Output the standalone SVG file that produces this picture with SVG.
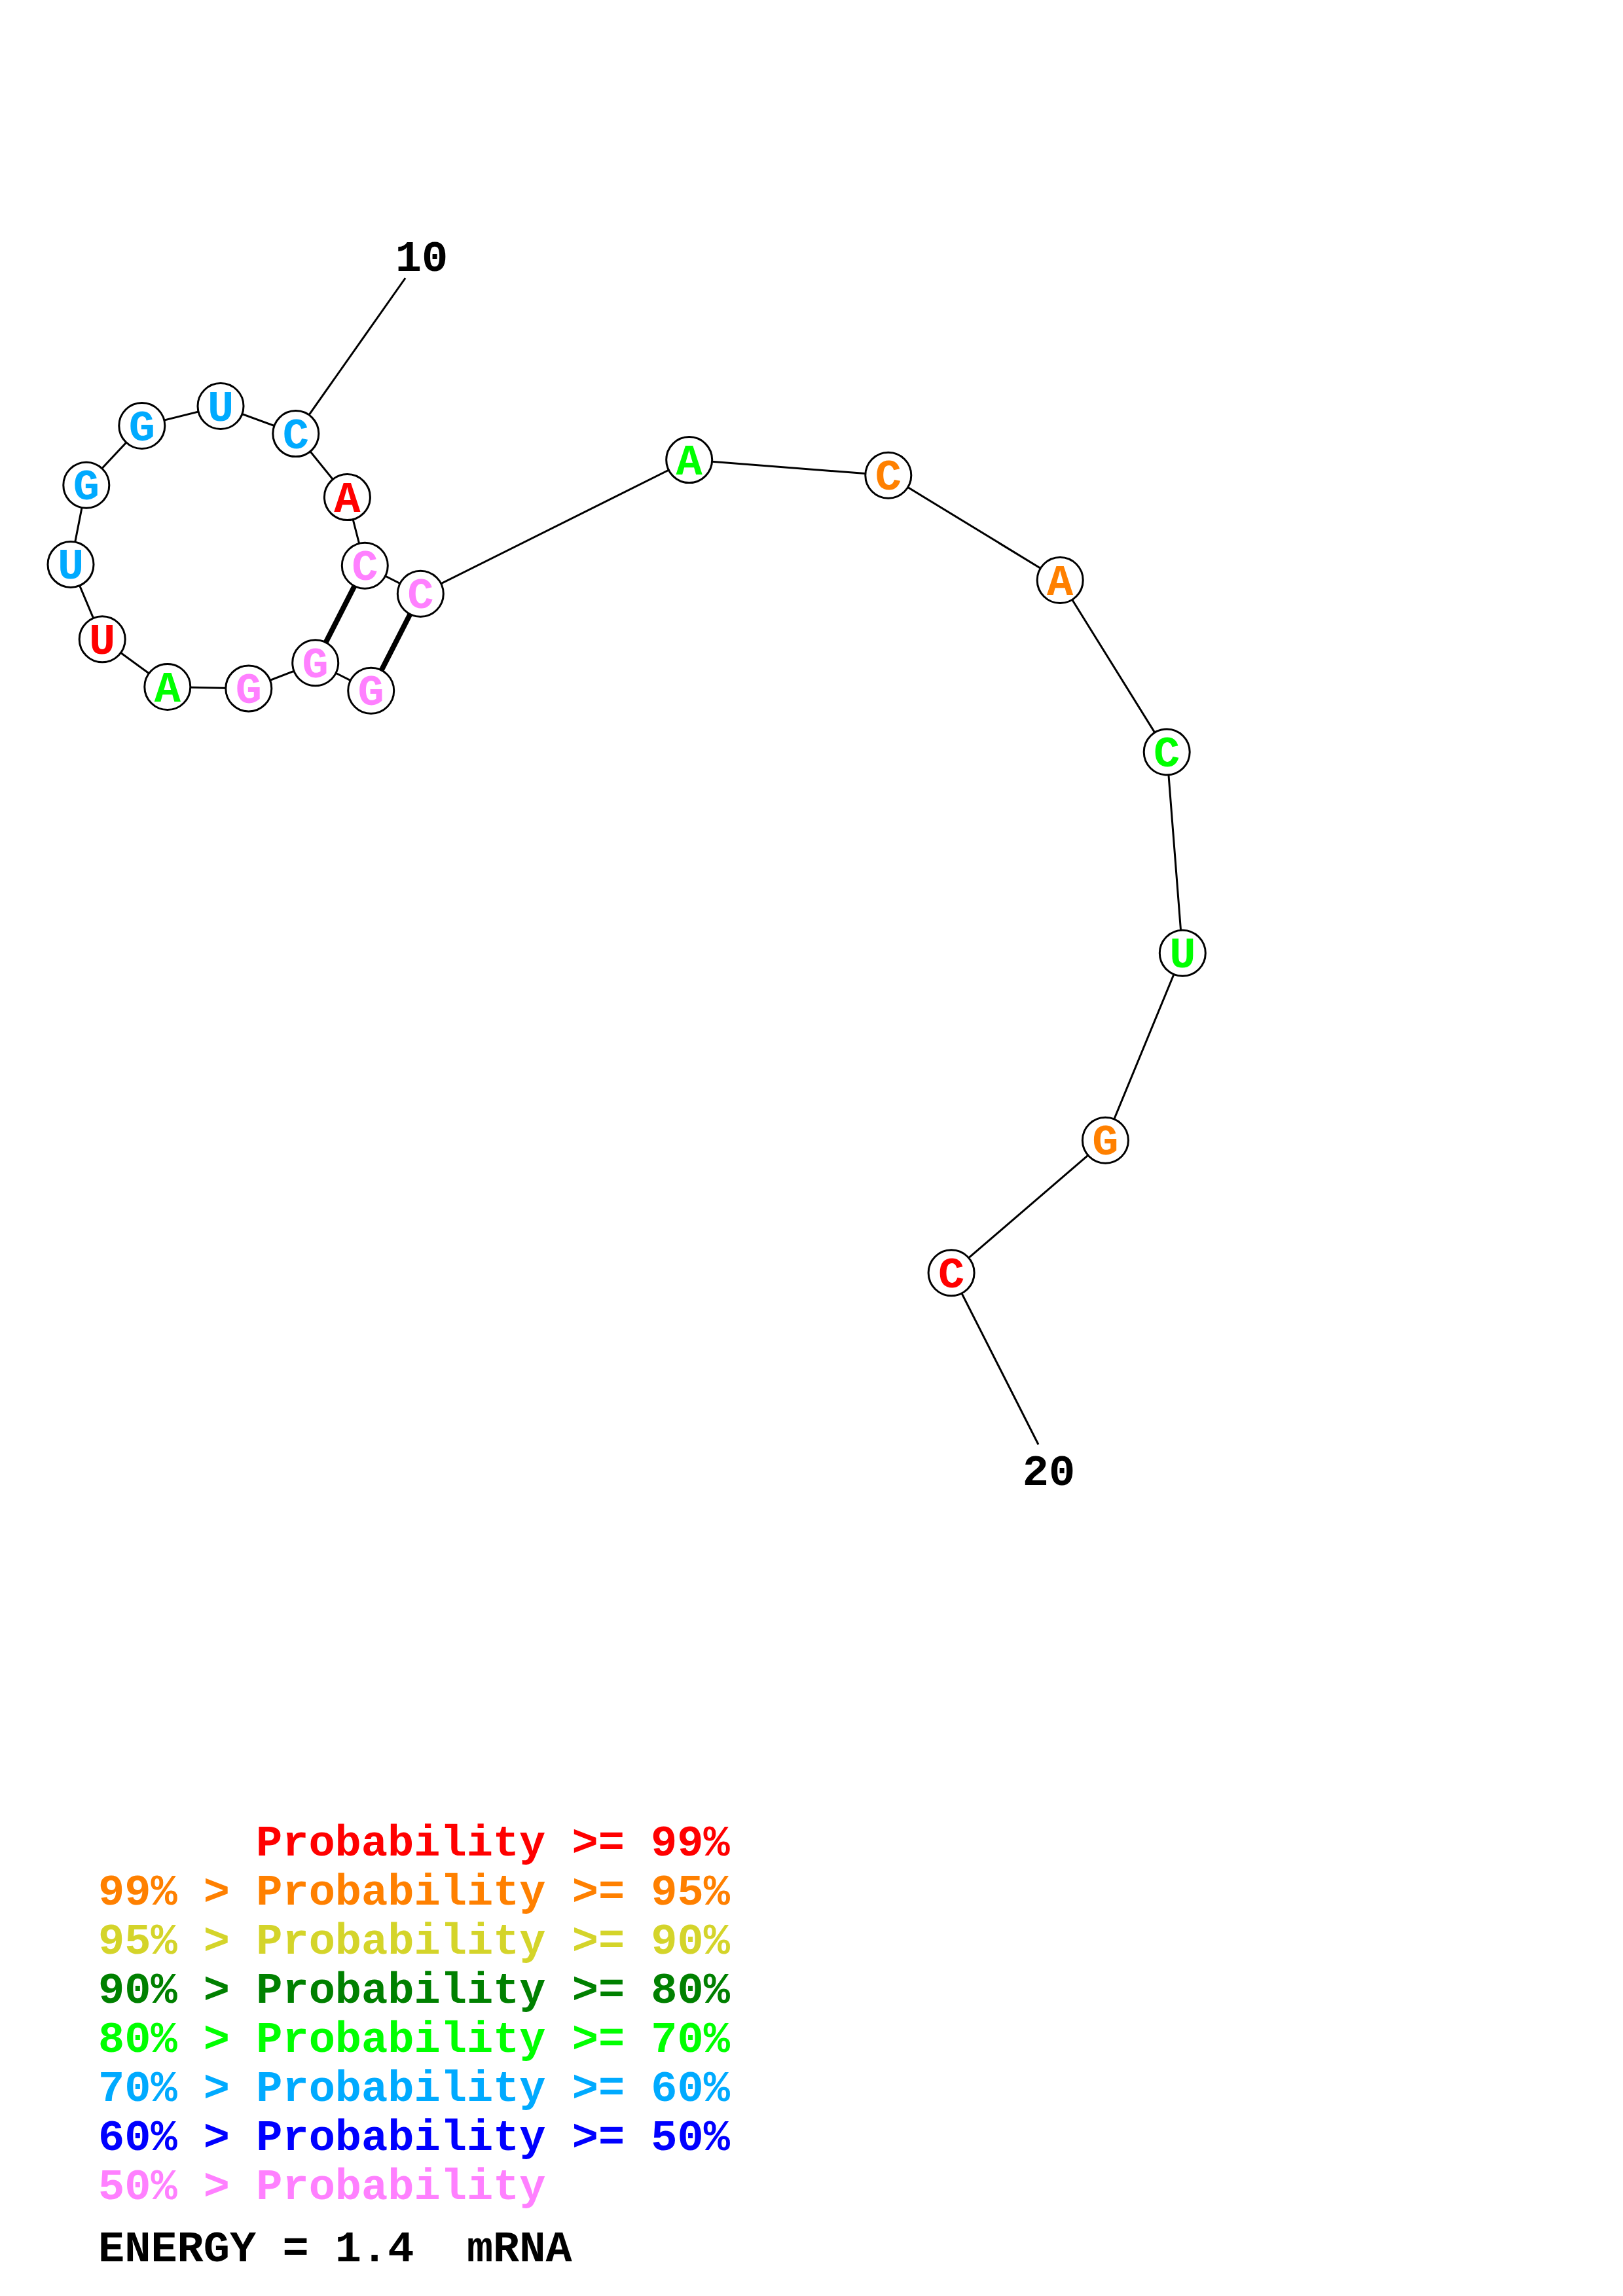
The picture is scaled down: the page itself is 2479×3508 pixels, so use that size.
<svg xmlns="http://www.w3.org/2000/svg" width="2479" height="3508" viewBox="0 0 2479 3508">
<style>
.bb{stroke:#000;stroke-width:3;fill:none}
.pr{stroke:#000;stroke-width:8;fill:none}
.nd{fill:#fff;stroke:#000;stroke-width:3}
.t{font-family:"Liberation Mono","Courier New",monospace;font-weight:bold;font-size:67px}
.n{text-anchor:middle}
.red{fill:#FF0000}.org{fill:#FF8000}.yel{fill:#D4D42A}.dgr{fill:#008000}.lgr{fill:#00FF00}.sky{fill:#00AAFF}.blu{fill:#0000FF}.pnk{fill:#FF80FF}.blk{fill:#000}
</style>
<rect width="2479" height="3508" fill="#fff"/>
<g id="connectors">
<polyline class="bb" points="566.7,1055.3 481.7,1012.7 379.8,1051.9 255.8,1049.5 156.2,976.8 108,862.4 131.8,741.2 216.8,650.5 337,620.5 451.8,662.6 530.4,759.6 557.3,864.3 642.3,907.3 1052.7,702.6 1356.8,726.3 1619.2,886.5 1782.2,1149 1806.3,1456.3 1688.4,1742.3 1453.1,1944.7"/>
<line class="bb" x1="619" y1="425" x2="451.8" y2="662.6"/>
<line class="bb" x1="1453.1" y1="1944.7" x2="1586" y2="2207"/>
<line class="pr" x1="557.3" y1="864.3" x2="481.7" y2="1012.7"/>
<line class="pr" x1="642.3" y1="907.3" x2="566.7" y2="1055.3"/>
</g>
<g id="n1"><circle class="nd" cx="566.7" cy="1055.3" r="35"/><text class="t n pnk" x="566.7" y="1077.3">G</text></g>
<g id="n2"><circle class="nd" cx="481.7" cy="1012.7" r="35"/><text class="t n pnk" x="481.7" y="1034.7">G</text></g>
<g id="n3"><circle class="nd" cx="379.8" cy="1051.9" r="35"/><text class="t n pnk" x="379.8" y="1073.9">G</text></g>
<g id="n4"><circle class="nd" cx="255.8" cy="1049.5" r="35"/><text class="t n lgr" x="255.8" y="1071.5">A</text></g>
<g id="n5"><circle class="nd" cx="156.2" cy="976.8" r="35"/><text class="t n red" x="156.2" y="998.8">U</text></g>
<g id="n6"><circle class="nd" cx="108" cy="862.4" r="35"/><text class="t n sky" x="108" y="884.4">U</text></g>
<g id="n7"><circle class="nd" cx="131.8" cy="741.2" r="35"/><text class="t n sky" x="131.8" y="763.2">G</text></g>
<g id="n8"><circle class="nd" cx="216.8" cy="650.5" r="35"/><text class="t n sky" x="216.8" y="672.5">G</text></g>
<g id="n9"><circle class="nd" cx="337" cy="620.5" r="35"/><text class="t n sky" x="337" y="642.5">U</text></g>
<g id="n10"><circle class="nd" cx="451.8" cy="662.6" r="35"/><text class="t n sky" x="451.8" y="684.6">C</text></g>
<g id="n11"><circle class="nd" cx="530.4" cy="759.6" r="35"/><text class="t n red" x="530.4" y="781.6">A</text></g>
<g id="n12"><circle class="nd" cx="557.3" cy="864.3" r="35"/><text class="t n pnk" x="557.3" y="886.3">C</text></g>
<g id="n13"><circle class="nd" cx="642.3" cy="907.3" r="35"/><text class="t n pnk" x="642.3" y="929.3">C</text></g>
<g id="n14"><circle class="nd" cx="1052.7" cy="702.6" r="35"/><text class="t n lgr" x="1052.7" y="724.6">A</text></g>
<g id="n15"><circle class="nd" cx="1356.8" cy="726.3" r="35"/><text class="t n org" x="1356.8" y="748.3">C</text></g>
<g id="n16"><circle class="nd" cx="1619.2" cy="886.5" r="35"/><text class="t n org" x="1619.2" y="908.5">A</text></g>
<g id="n17"><circle class="nd" cx="1782.2" cy="1149" r="35"/><text class="t n lgr" x="1782.2" y="1171">C</text></g>
<g id="n18"><circle class="nd" cx="1806.3" cy="1456.3" r="35"/><text class="t n lgr" x="1806.3" y="1478.3">U</text></g>
<g id="n19"><circle class="nd" cx="1688.4" cy="1742.3" r="35"/><text class="t n org" x="1688.4" y="1764.3">G</text></g>
<g id="n20"><circle class="nd" cx="1453.1" cy="1944.7" r="35"/><text class="t n red" x="1453.1" y="1966.7">C</text></g>
<g id="labels">
<text class="t n blk" x="644" y="414">10</text>
<text class="t n blk" x="1602" y="2269">20</text>
</g>
<g id="legend">
<text class="t red" x="391" y="2835">Probability &gt;= 99%</text>
<text class="t org" x="150" y="2910">99% &gt; Probability &gt;= 95%</text>
<text class="t yel" x="150" y="2985">95% &gt; Probability &gt;= 90%</text>
<text class="t dgr" x="150" y="3060">90% &gt; Probability &gt;= 80%</text>
<text class="t lgr" x="150" y="3135">80% &gt; Probability &gt;= 70%</text>
<text class="t sky" x="150" y="3210">70% &gt; Probability &gt;= 60%</text>
<text class="t blu" x="150" y="3285">60% &gt; Probability &gt;= 50%</text>
<text class="t pnk" x="150" y="3360">50% &gt; Probability</text>
<text class="t blk" x="150" y="3455" xml:space="preserve">ENERGY = 1.4  mRNA</text>
</g>
</svg>
